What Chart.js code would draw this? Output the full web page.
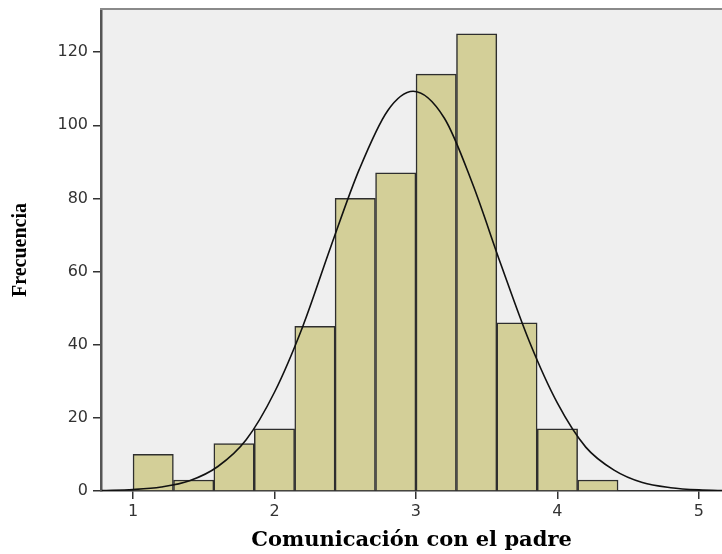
<!DOCTYPE html>
<html>
<head>
<meta charset="utf-8">
<script src="https://cdn.jsdelivr.net/npm/chart.js@4/dist/chart.umd.min.js"></script>
<style>
  html, body { margin: 0; padding: 0; background: #ffffff; }
  #wrap { width: 722px; height: 554px; position: relative; }
</style>
</head>
<body>
<div id="wrap"><canvas id="c"></canvas></div>
<script>
// Histogram bins (bin centres) and frequencies
const binCenters = [1.143, 1.429, 1.714, 2.0, 2.286, 2.571, 2.857, 3.143, 3.429, 3.714, 4.0, 4.286];
const frequencies = [10, 3, 13, 17, 45, 80, 87, 114, 125, 46, 17, 3];

// Normal curve
const curveX = [0.78, 1.0, 1.2, 1.4, 1.6, 1.8, 2.0, 2.2, 2.4, 2.6, 2.8, 2.98, 3.2, 3.4, 3.6, 3.8, 4.0, 4.2, 4.4, 4.6, 4.8, 5.0, 5.2];
const curveY = [0.1, 0.4, 1.1, 2.8, 6.7, 14, 27, 45, 67, 88, 104, 109.3, 102, 84, 62, 41, 24, 12, 5.7, 2.3, 0.9, 0.3, 0.1];

// Tick labels
const xTicks = [1, 2, 3, 4, 5];
const yTicks = [0, 20, 40, 60, 80, 100, 120];

const xTitle = 'Comunicación con el padre';
const yTitle = 'Frecuencia';

const plotBg = {
  id: 'plotBg',
  beforeDraw(chart) {
    const { ctx, chartArea: a } = chart;
    ctx.save();
    ctx.fillStyle = '#efefef';
    ctx.fillRect(a.left, a.top, a.right - a.left, a.bottom - a.top);
    ctx.restore();
  },
  afterDraw(chart) {
    const { ctx, chartArea: a } = chart;
    ctx.save();
    ctx.strokeStyle = '#8a8a8a';
    ctx.lineWidth = 2;
    ctx.beginPath();
    ctx.moveTo(a.left - 1, a.top);
    ctx.lineTo(a.right, a.top);
    ctx.stroke();
    ctx.restore();
  }
};

new Chart(document.getElementById('c'), {
  type: 'bar',
  data: {
    datasets: [
      {
        type: 'line',
        data: curveX.map((x, i) => ({ x: x, y: curveY[i] })),
        borderColor: '#111111',
        borderWidth: 1.6,
        pointRadius: 0,
        cubicInterpolationMode: 'monotone',
        fill: false,
        order: 0
      },
      {
        type: 'bar',
        data: binCenters.map((x, i) => ({ x: x, y: frequencies[i] })),
        backgroundColor: '#d3cf98',
        borderColor: '#2e2e2e',
        borderWidth: 1.5,
        barPercentage: 1.0,
        categoryPercentage: 1.0,
        order: 1
      }
    ]
  },
  options: {
    responsive: true,
    maintainAspectRatio: false,
    animation: false,
    layout: { padding: { top: 9, right: 0, left: 0, bottom: 0 } },
    plugins: { legend: { display: false }, tooltip: { enabled: false } },
    scales: {
      x: {
        type: 'linear',
        min: 0.774,
        max: 5.163,
        offset: false,
        afterBuildTicks(scale) { scale.ticks = xTicks.map(v => ({ value: v })); },
        afterFit(scale) { scale.height = 63; scale.paddingLeft = 0; scale.paddingRight = 0; },
        grid: { display: true, drawOnChartArea: false, drawTicks: true, tickLength: 8, color: '#333333', offset: false, lineWidth: 1.5 },
        border: { display: true, color: '#333333', width: 1.5 },
        ticks: { color: '#333333', font: { family: 'DejaVu Sans', size: 16 }, padding: 3, maxRotation: 0, autoSkip: false },
        title: { display: true, text: xTitle, color: '#000000', font: { family: 'DejaVu Serif', size: 21, weight: 'bold', lineHeight: 1.0 }, padding: { top: 0, bottom: 3 } }
      },
      y: {
        type: 'linear',
        min: 0,
        max: 131.8,
        afterBuildTicks(scale) { scale.ticks = yTicks.map(v => ({ value: v })); },
        afterFit(scale) { scale.width = 101; scale.paddingTop = 0; scale.paddingBottom = 0; },
        grid: { display: true, drawOnChartArea: false, drawTicks: true, tickLength: 8, color: '#333333', lineWidth: 1.5 },
        border: { display: true, color: '#555555', width: 2.5 },
        ticks: { color: '#333333', font: { family: 'DejaVu Sans', size: 16 }, padding: 5 },
        title: { display: true, text: yTitle, color: '#000000', font: { family: 'Liberation Serif', size: 20, weight: 'bold', lineHeight: 1.2 }, padding: { top: 9, bottom: 0 } }
      }
    }
  },
  plugins: [plotBg]
});
</script>
</body>
</html>
